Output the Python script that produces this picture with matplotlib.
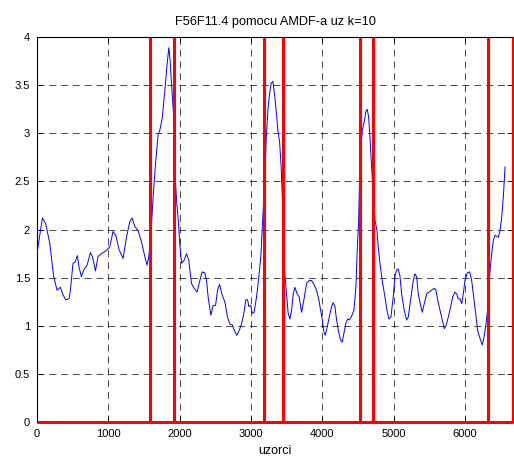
import matplotlib
matplotlib.use("Agg")
import matplotlib.pyplot as plt

# AMDF curve (sample index, value)
samples = [0, 75, 122, 178, 234, 281, 328, 365, 403, 449, 468, 505, 533, 566, 589,
           622, 655, 702, 749, 777, 819, 856, 903, 950, 982, 1020, 1066, 1104, 1151,
           1207, 1254, 1300, 1333, 1371, 1417, 1465, 1511, 1543, 1567, 1595, 1628,
           1661, 1698, 1721, 1754, 1792, 1820, 1848, 1866, 1886, 1914, 1932, 1960,
           1978, 2002, 2026, 2062, 2096, 2128, 2166, 2203, 2245, 2283, 2315, 2353,
           2377, 2399, 2437, 2469, 2503, 2531, 2559, 2596, 2633, 2671, 2703, 2736,
           2774, 2802, 2834, 2868, 2900, 2928, 2952, 2970, 2998, 3016, 3044, 3078,
           3110, 3138, 3166, 3199, 3213, 3237, 3260, 3283, 3307, 3331, 3353, 3377,
           3401, 3423, 3433, 3455, 3470, 3499, 3521, 3545, 3569, 3592, 3615, 3648,
           3676, 3709, 3742, 3779, 3816, 3850, 3882, 3920, 3952, 3976, 3998, 4022,
           4041, 4069, 4097, 4130, 4153, 4177, 4200, 4228, 4257, 4279, 4303, 4331,
           4355, 4377, 4411, 4443, 4471, 4489, 4509, 4527, 4560, 4588, 4611, 4630,
           4649, 4668, 4691, 4714, 4738, 4766, 4784, 4808, 4840, 4878, 4906, 4934,
           4962, 4994, 5018, 5042, 5064, 5088, 5112, 5149, 5182, 5205, 5243, 5275,
           5299, 5323, 5345, 5373, 5401, 5429, 5463, 5495, 5533, 5570, 5593, 5617,
           5650, 5682, 5710, 5738, 5766, 5800, 5828, 5860, 5884, 5906, 5930, 5954,
           5976, 6000, 6033, 6066, 6094, 6122, 6150, 6178, 6206, 6243, 6267, 6295,
           6323, 6341, 6361, 6379, 6398, 6421, 6445, 6468, 6492, 6515, 6538, 6562]
amdf = [1.75, 2.12, 2.06, 1.86, 1.51, 1.37, 1.40, 1.32, 1.27, 1.28, 1.37, 1.65, 1.66,
        1.73, 1.61, 1.51, 1.58, 1.63, 1.76, 1.72, 1.57, 1.72, 1.75, 1.77, 1.79, 1.82,
        1.98, 1.94, 1.79, 1.70, 1.92, 2.08, 2.12, 2.03, 1.99, 1.87, 1.72, 1.63, 1.72,
        1.92, 2.34, 2.68, 2.99, 3.03, 3.15, 3.44, 3.69, 3.89, 3.76, 3.51, 3.20, 2.61,
        2.27, 2.12, 1.85, 1.65, 1.68, 1.75, 1.68, 1.44, 1.39, 1.35, 1.47, 1.56, 1.55,
        1.47, 1.30, 1.11, 1.21, 1.21, 1.37, 1.43, 1.32, 1.25, 1.09, 1.02, 1.01, 0.94,
        0.90, 0.95, 1.02, 1.13, 1.27, 1.27, 1.20, 1.21, 1.13, 1.14, 1.30, 1.51, 1.72,
        2.13, 2.62, 2.93, 3.24, 3.41, 3.52, 3.54, 3.40, 3.24, 3.03, 2.91, 2.65, 2.45,
        2.05, 1.58, 1.33, 1.13, 1.07, 1.16, 1.33, 1.40, 1.33, 1.30, 1.14, 1.27, 1.44,
        1.47, 1.47, 1.43, 1.37, 1.27, 1.16, 1.07, 0.94, 0.90, 0.99, 1.09, 1.20, 1.24,
        1.20, 1.06, 0.94, 0.85, 0.83, 0.92, 1.03, 1.07, 1.06, 1.10, 1.16, 1.40, 1.78,
        2.08, 2.69, 3.03, 3.12, 3.23, 3.25, 3.17, 2.96, 2.65, 2.37, 2.10, 1.99, 1.82,
        1.65, 1.47, 1.30, 1.16, 1.07, 1.09, 1.30, 1.51, 1.58, 1.59, 1.52, 1.33, 1.16,
        1.06, 1.09, 1.30, 1.47, 1.54, 1.51, 1.33, 1.23, 1.14, 1.23, 1.33, 1.35, 1.37,
        1.39, 1.37, 1.27, 1.16, 1.06, 0.97, 1.01, 1.09, 1.20, 1.30, 1.35, 1.33, 1.28,
        1.28, 1.23, 1.33, 1.47, 1.55, 1.56, 1.47, 1.30, 1.13, 0.95, 0.88, 0.80, 0.88,
        1.02, 1.20, 1.47, 1.65, 1.78, 1.89, 1.94, 1.93, 1.92, 1.99, 2.13, 2.34, 2.65]

# segment boundaries (red markers) and end of signal
boundaries = [1581, 1922, 3183, 3451, 4527, 4705, 6327]
signal_end = 6673
marker_height = 4

plt.rcParams['font.family'] = ['Liberation Sans', 'DejaVu Sans']

fig = plt.figure(figsize=(5.14, 4.59), dpi=100)
ax = fig.add_axes([0.072, 0.0806, 0.926, 0.8386])

ax.plot(samples, amdf, color='blue', linewidth=0.7, zorder=3)

ax.vlines(boundaries + [signal_end], 0, marker_height, colors='red',
          linewidth=2.2, zorder=4, clip_on=False)
ax.plot([0, signal_end], [0, 0], color='red', linewidth=2.2, zorder=4,
        clip_on=False, solid_capstyle='butt')

ax.set_xlim(0, signal_end)
ax.set_ylim(0, 4)
ax.set_xticks(range(0, 7000, 1000))
ax.set_yticks([0, 0.5, 1, 1.5, 2, 2.5, 3, 3.5, 4])
ax.set_yticklabels(['0', '0.5', '1', '1.5', '2', '2.5', '3', '3.5', '4'])
ax.grid(True, color='black', linestyle=(0, (10, 7)), linewidth=0.5)
ax.tick_params(direction='in', top=True, right=True, length=4, labelsize=8,
               width=0.6, pad=5)
for sp in ax.spines.values():
    sp.set_linewidth(0.8)

ax.set_title('F56F11.4 pomocu AMDF-a uz k=10', fontsize=9.2, pad=9)
ax.set_xlabel('uzorci', fontsize=9, labelpad=4)

fig.savefig('out.png', dpi=100)
